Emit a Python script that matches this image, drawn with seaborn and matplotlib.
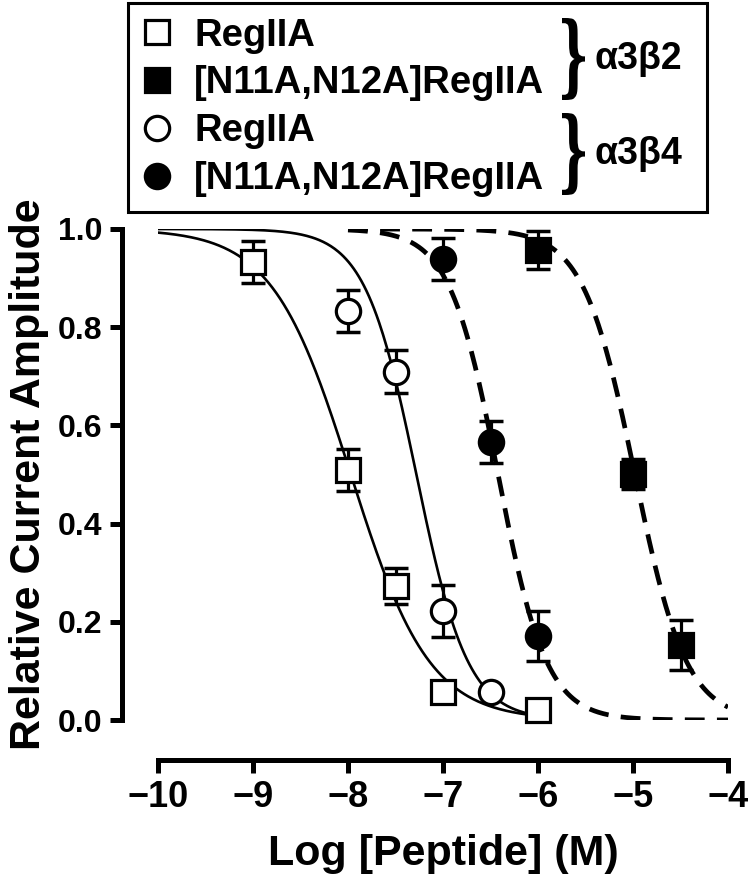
import numpy as np
import matplotlib
matplotlib.use('Agg')
import matplotlib.pyplot as plt
import seaborn as sns
from matplotlib.lines import Line2D
from matplotlib.textpath import TextPath
from matplotlib.patches import PathPatch
from matplotlib.font_manager import FontProperties
from matplotlib.transforms import Affine2D

# data (log concentration, relative amplitude, SEM)
sq_open_x = [-9, -8, -7.5, -7, -6]
sq_open_y = [0.933, 0.509, 0.273, 0.057, 0.02]
sq_open_err = [0.043, 0.043, 0.036, 0.0, 0.0]

circ_open_x = [-8, -7.5, -7, -6.5]
circ_open_y = [0.833, 0.709, 0.222, 0.057]
circ_open_err = [0.043, 0.044, 0.053, 0.0]

circ_fill_x = [-7, -6.5, -6]
circ_fill_y = [0.939, 0.566, 0.171]
circ_fill_err = [0.043, 0.042, 0.05]

sq_fill_x = [-6, -5, -4.5]
sq_fill_y = [0.957, 0.501, 0.153]
sq_fill_err = [0.039, 0.03, 0.051]

# fitted Hill parameters (logIC50, slope)
fit_sq_open = (-7.97, 1.05)
fit_circ_open = (-7.28, 1.6)
fit_circ_fill = (-6.42, 1.7)
fit_sq_fill = (-4.98, 1.6)

legend_labels = ['RegIIA', '[N11A,N12A]RegIIA', 'RegIIA', '[N11A,N12A]RegIIA']
subtype_labels = ['\u03b13\u03b22', '\u03b13\u03b24']
x_ticks = [-10, -9, -8, -7, -6, -5, -4]
x_ticklabels = ['\u221210', '\u22129', '\u22128', '\u22127', '\u22126', '\u22125', '\u22124']
y_ticks = [0.0, 0.2, 0.4, 0.6, 0.8, 1.0]
y_ticklabels = ['0.0', '0.2', '0.4', '0.6', '0.8', '1.0']

sns.set_style('ticks')
plt.rcParams['font.family'] = ['Liberation Sans', 'DejaVu Sans']
plt.rcParams['font.weight'] = 'bold'
for k in ['text.color', 'axes.labelcolor', 'xtick.color', 'ytick.color', 'axes.edgecolor']:
    plt.rcParams[k] = 'black'


def hill(x, p):
    return 1.0 / (1.0 + 10 ** ((x - p[0]) * p[1]))


fig = plt.figure(figsize=(7.5, 8.84), dpi=100)
ax = fig.add_axes([158 / 750, 164 / 884, 570 / 750, 491 / 884])

# fitted curves
xs = np.linspace(-10, -6, 300)
xd = np.linspace(-8, -4, 300)
sns.lineplot(x=xs, y=hill(xs, fit_sq_open), color='black', lw=1.9, ax=ax)
sns.lineplot(x=xs, y=hill(xs, fit_circ_open), color='black', lw=1.9, ax=ax)
sns.lineplot(x=xd, y=hill(xd, fit_circ_fill), color='black', lw=3.4,
             linestyle=(0, (4.2, 2.6)), ax=ax)
sns.lineplot(x=xd, y=hill(xd, fit_sq_fill), color='black', lw=3.4,
             linestyle=(0, (4.2, 2.6)), ax=ax)

# points with error bars
series = [
    (sq_open_x, sq_open_y, sq_open_err, 's', 'white'),
    (sq_fill_x, sq_fill_y, sq_fill_err, 's', 'black'),
    (circ_open_x, circ_open_y, circ_open_err, 'o', 'white'),
    (circ_fill_x, circ_fill_y, circ_fill_err, 'o', 'black'),
]
for x, y, e, m, fc in series:
    ax.errorbar(x, y, yerr=e, fmt='none', ecolor='black', elinewidth=2.3,
                capsize=8.5, capthick=2.5, zorder=3)
    ax.plot(x, y, linestyle='none', marker=m, ms=17.5, mfc=fc, mec='black',
            mew=2.3, zorder=4, clip_on=False)

ax.set_xlim(-10, -4)
ax.set_ylim(0, 1)
ax.set_xticks(x_ticks)
ax.set_yticks(y_ticks)
ax.set_xticklabels(x_ticklabels)
ax.set_yticklabels(y_ticklabels)
sns.despine(ax=ax)
ax.spines['left'].set_position(('outward', 26))
ax.spines['bottom'].set_position(('outward', 29))
for s in ['left', 'bottom']:
    ax.spines[s].set_linewidth(3.6)
ax.tick_params(width=3.6, length=9, pad=5, color='black')
ax.tick_params(axis='x', labelsize=26)
ax.tick_params(axis='y', labelsize=23)
for lab in ax.get_xticklabels() + ax.get_yticklabels():
    lab.set_fontweight('bold')
ax.set_xlabel('Log [Peptide] (M)', fontsize=31, fontweight='bold', labelpad=14)
ax.set_ylabel('Relative Current Amplitude', fontsize=31, fontweight='bold', labelpad=6)

# legend
handles = [
    Line2D([], [], ls='none', marker='s', ms=17.5, mfc='white', mec='black', mew=2.3),
    Line2D([], [], ls='none', marker='s', ms=17.5, mfc='black', mec='black', mew=2.3),
    Line2D([], [], ls='none', marker='o', ms=17.5, mfc='white', mec='black', mew=2.3),
    Line2D([], [], ls='none', marker='o', ms=17.5, mfc='black', mec='black', mew=2.3),
]
leg = fig.legend(handles, legend_labels, loc='upper left',
                 bbox_to_anchor=(128 / 750, 677 / 884, 579 / 750, 204 / 884),
                 mode='expand', borderaxespad=0, fancybox=False, framealpha=1,
                 edgecolor='black', handlelength=0.75,
                 handletextpad=0.6, borderpad=0.38, labelspacing=0.31,
                 prop={'weight': 'bold', 'size': 27.5})
leg.get_frame().set_linewidth(2.2)

# braces and subunit labels
tp = TextPath((0, 0), '}', size=1, prop=FontProperties(family='DejaVu Serif', weight='bold'))
bb = tp.get_extents()
to_fig = Affine2D().scale(1 / 750, 1 / 884) + fig.transFigure
for top, lab in zip([18, 113], subtype_labels):
    h = 82
    tr = (Affine2D().translate(-bb.x0, -bb.y0)
          .scale(23 / bb.width, h / bb.height)
          .translate(562, 884 - top - h)) + to_fig
    fig.patches.append(PathPatch(tp, transform=tr, facecolor='black', edgecolor='none', zorder=10))
    fig.text(594 / 750, 1 - (top + h / 2) / 884, lab, fontsize=27, fontweight='bold',
             ha='left', va='center', zorder=10)

fig.savefig('out.png', dpi=100)
